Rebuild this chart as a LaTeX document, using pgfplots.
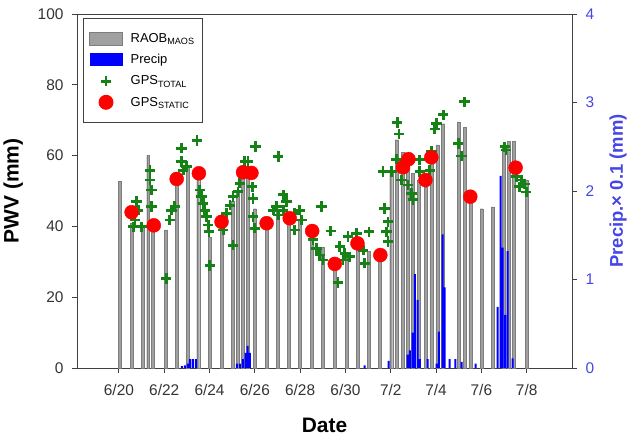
\documentclass[border=0pt]{standalone}
\usepackage{fontspec}
\setmainfont{Liberation Sans}
\usepackage{pgfplots}
\usepackage{pgfplotstable}
\pgfplotsset{compat=1.18}
\definecolor{raob}{RGB}{160,160,160}
\definecolor{raobedge}{RGB}{125,125,125}
\definecolor{gpsgreen}{RGB}{20,130,20}
\definecolor{precipblue}{RGB}{0,0,255}
\definecolor{axisblue}{RGB}{70,70,230}

\pgfplotstableread{
x y
0.04 52.8
0.56 41
1.05 40
1.29 60
1.51 40
2.07 39
2.55 54
3.03 57
3.50 55
4.01 37
4.53 41
5.03 47
5.25 50
5.47 56
5.69 55
6.00 45
6.53 41
7.01 45
7.50 43
7.98 42
8.51 39
9.00 34
9.53 30
10.06 31
10.54 35
11.03 33
11.51 31
12.02 56
12.26 64.5
12.52 61
12.75 60
12.98 55
13.25 53
13.54 51
13.79 59
14.06 63
14.31 69
15.00 69.5
15.26 68
15.51 47.5
16.01 45
16.50 45.5
16.98 63
17.20 64
17.42 64
18.00 53
}\raobtab

\pgfplotstableread{
x y
2.78 0.02
2.91 0.03
3.04 0.05
3.13 0.10
3.26 0.10
3.40 0.10
5.21 0.05
5.34 0.05
5.47 0.10
5.59 0.17
5.68 0.25
5.78 0.17
10.85 0.03
11.91 0.08
12.75 0.15
12.84 0.20
12.97 0.40
13.06 1.06
13.19 0.77
13.28 0.10
13.63 0.10
14.03 0.05
14.12 0.41
14.29 1.51
14.38 0.91
14.60 0.10
14.85 0.10
15.13 0.07
15.75 0.05
16.72 0.69
16.85 2.17
16.94 1.36
17.05 0.60
17.16 1.32
17.38 0.11
}\preciptab

\pgfplotstableread{
x y
0.63 39.9
0.78 47.0
0.85 44.6
1.00 39.9
0.71 41.8
1.37 55.9
1.37 53.1
1.44 50.3
1.44 45.6
2.09 25.3
2.25 41.8
2.32 44.6
2.47 45.6
2.77 58.3
2.77 62.1
2.84 55.9
2.99 56.9
3.45 64.3
3.57 50.3
3.65 48.4
3.72 46.5
3.79 44.6
3.87 42.7
3.94 40.4
3.98 38.5
4.01 29.0
4.60 39.0
4.75 43.7
4.90 46.0
5.04 48.4
5.04 34.7
5.26 49.8
5.34 52.2
5.56 58.3
5.70 58.3
5.88 51.2
5.92 47.9
5.92 42.7
6.00 39.5
6.03 62.6
7.03 59.7
6.81 44.6
6.96 45.6
7.25 48.9
7.40 47.0
7.25 44.6
7.76 43.7
7.98 44.6
8.06 41.8
7.76 39.0
7.03 43.2
8.94 45.6
8.57 36.2
8.72 33.8
8.87 31.9
9.01 30.5
9.35 38.7
9.75 34.3
9.97 32.4
9.89 30.5
9.67 24.1
10.11 37.1
10.19 31.4
10.49 38.1
11.04 38.5
10.78 33.3
10.85 29.6
11.73 45.1
11.88 41.3
11.81 38.5
11.88 35.7
11.66 55.5
12.03 55.5
12.28 69.3
12.36 66.1
12.25 59.0
12.47 53.1
12.76 51.7
12.91 49.4
12.98 47.5
13.28 58.8
13.28 55.5
13.79 61.3
13.72 55.9
13.94 67.5
14.01 69.1
14.31 71.5
14.98 63.4
15.13 59.9
15.26 75.2
17.03 62.5
17.09 61.6
17.54 54.0
17.76 53.1
17.91 52.0
17.69 51.2
17.98 49.7
}\gpstotaltab

\pgfplotstableread{
x y
0.56 44.0
1.54 40.3
2.55 53.4
3.53 55.0
4.53 41.3
5.48 55.3
5.85 55.1
6.52 40.9
7.54 42.3
8.53 38.7
9.53 29.4
10.53 35.2
11.54 31.9
12.54 56.7
12.78 59.0
13.53 53.1
13.79 59.5
15.51 48.4
17.51 56.6
}\gpsstatictab

\begin{document}
\begin{tikzpicture}
\pgfplotsset{
  common/.style={
    width=495bp, height=354bp, scale only axis,
    xmin=-1.85, xmax=20,
    tick align=outside,
    major tick length=5bp,
    /pgf/number format/assume math mode=true,
  }
}
% Axis 1: left axis, RAOB bars
\begin{axis}[common,
  ymin=0, ymax=100,
  axis line style={draw=black!75, line width=0.9pt},
  tick style={draw=black!75, line width=0.9pt},
  xtick pos=bottom, ytick pos=left,
  xtick={0,2,...,18},
  xticklabels={6/20,6/22,6/24,6/26,6/28,6/30,7/2,7/4,7/6,7/8},
  ytick={0,20,...,100},
  tick label style={font=\fontsize{15.5}{17}\selectfont, text=black!80},
  xticklabel style={yshift=-8bp},
  yticklabel style={xshift=-5bp},
  xlabel={Date}, ylabel={PWV (mm)},
  label style={font=\bfseries\fontsize{21}{24}\selectfont},
  xlabel style={at={(axis description cs:0.5,-0.163)}, anchor=center},
  ylabel style={at={(axis description cs:-0.129,0.5)}, anchor=center},
]
\addplot[ybar, bar width=0.13, bar shift=0pt, fill=raob, draw=raobedge, line width=0.3pt] table[x=x,y=y] {\raobtab};
\end{axis}
% Axis 2: right axis, precipitation
\begin{axis}[common,
  ymin=0, ymax=4,
  axis y line*=right, axis x line=none,
  xtick=\empty,
  ytick={0,1,2,3,4},
  axis line style={draw=black!75, line width=0.9pt},
  tick style={draw=black!75, line width=0.9pt},
  yticklabel style={font=\fontsize{15.5}{17}\selectfont, text=axisblue, xshift=5bp},
  ylabel={Precip.× 0.1 (mm)},
  ylabel style={font=\bfseries\fontsize{18.5}{22}\selectfont, text=axisblue, at={(axis description cs:1.093,0.5)}, anchor=center},
]
\addplot[ybar, bar width=0.09, bar shift=0pt, fill=precipblue, draw=none] table[x=x,y=y] {\preciptab};
\end{axis}
% Axis 3: GPS markers and legend
\begin{axis}[common,
  ymin=0, ymax=100,
  hide axis,
  legend cell align=left,
  legend style={at={(axis description cs:0.012,0.989)}, anchor=north west,
    draw=black!75, line width=0.9pt, fill=white,
    font=\fontsize{13}{15}\selectfont,
    row sep=6.6bp, inner xsep=6bp, inner ysep=13bp},
]
\addlegendimage{legend image code/.code={\draw[fill=raob, draw=raobedge, line width=0.3pt] (0bp,-6.5bp) rectangle (33bp,6.5bp);}}
\addlegendentry{\hspace{6bp}RAOB\textsubscript{MAOS}}
\addlegendimage{legend image code/.code={\draw[fill=precipblue, draw=none] (0bp,-6.5bp) rectangle (33bp,6.5bp);}}
\addlegendentry{\hspace{6bp}Precip}
\addplot[only marks, mark=+, mark size=5.2bp, color=gpsgreen, mark options={line width=2.8bp},
  legend image code/.code={\draw[gpsgreen, line width=2.8bp] plot[mark=+, mark size=5.2bp] coordinates {(16.5bp,0bp)};}]
  table[x=x,y=y] {\gpstotaltab};
\addlegendentry{\hspace{6bp}GPS\textsubscript{TOTAL}}
\addplot[only marks, mark=*, mark size=7bp, color=red, mark options={draw=red, fill=red},
  legend image code/.code={\draw[draw=red, fill=red] plot[mark=*, mark size=7bp] coordinates {(16.5bp,0bp)};}]
  table[x=x,y=y] {\gpsstatictab};
\addlegendentry{\hspace{6bp}GPS\textsubscript{STATIC}\hspace{6bp}}
\end{axis}
\pgfresetboundingbox
\path[use as bounding box] (-77bp,-70bp) rectangle (555bp,368bp);
\end{tikzpicture}
\end{document}
